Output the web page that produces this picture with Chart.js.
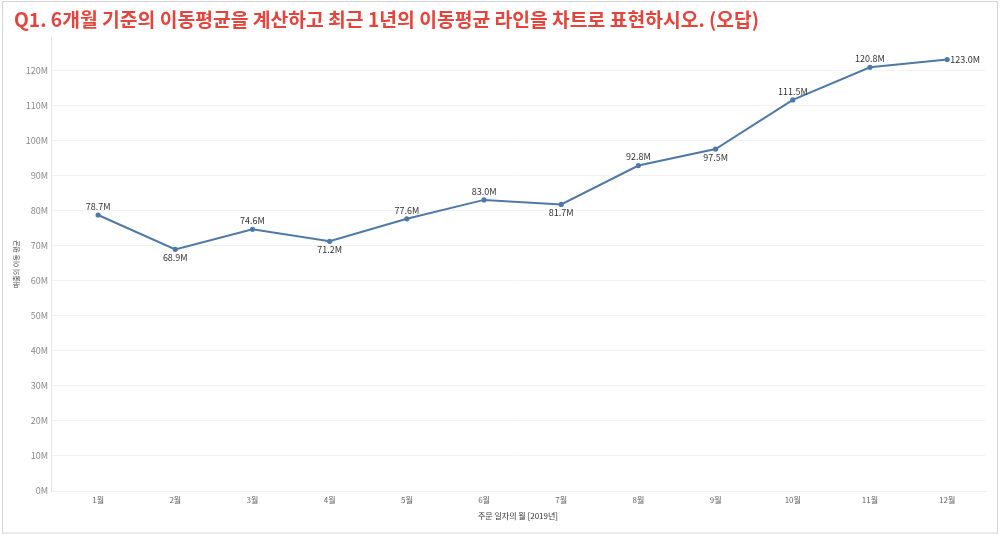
<!DOCTYPE html>
<html>
<head>
<meta charset="utf-8">
<script src="https://cdn.jsdelivr.net/npm/chart.js@4/dist/chart.umd.min.js"></script>
<style>
    body { margin: 0; background: #fff; }
    #wrap { width: 1000px; height: 535px; }
</style>
</head>
<body>
<div id="wrap"><canvas id="myChart" width="1000" height="535"></canvas></div>
<script>
const months = ["1월", "2월", "3월", "4월", "5월", "6월", "7월", "8월", "9월", "10월", "11월", "12월"];
const movingAvg = [78.7, 68.9, 74.6, 71.2, 77.6, 83.0, 81.7, 92.8, 97.5, 111.5, 120.8, 123.0];
const yTicks = [0, 10, 20, 30, 40, 50, 60, 70, 80, 90, 100, 110, 120];
// where each value label sits relative to its point
const labelSide = ["above", "below", "above", "below", "above", "above", "below", "above", "below", "above", "above", "right"];

const FONT = '"Noto Sans CJK KR", "Noto Sans", sans-serif';
const LINE_COLOR = '#4e79a7';

const frame = {
    id: 'frame',
    beforeDraw(chart) {
        const ctx = chart.ctx;
        ctx.save();
        ctx.fillStyle = '#fff';
        ctx.fillRect(0, 0, chart.width, chart.height);
        ctx.strokeStyle = '#d6d6d6';
        ctx.lineWidth = 1;
        ctx.strokeRect(2.5, 1.5, chart.width - 5, chart.height - 3.5);
        ctx.restore();
    }
};

const valueLabels = {
    id: 'valueLabels',
    afterDatasetsDraw(chart) {
        const ctx = chart.ctx;
        const meta = chart.getDatasetMeta(0);
        ctx.save();
        ctx.font = '9px ' + FONT;
        ctx.fillStyle = '#333';
        meta.data.forEach((pt, i) => {
            const text = movingAvg[i].toFixed(1) + 'M';
            const side = labelSide[i];
            if (side === 'right') {
                ctx.textAlign = 'left';
                ctx.textBaseline = 'middle';
                ctx.fillText(text, pt.x + 3, pt.y);
            } else if (side === 'above') {
                ctx.textAlign = 'center';
                ctx.textBaseline = 'bottom';
                ctx.fillText(text, pt.x, pt.y - 4);
            } else {
                ctx.textAlign = 'center';
                ctx.textBaseline = 'top';
                ctx.fillText(text, pt.x, pt.y + 4);
            }
        });
        ctx.restore();
    }
};

const ctx = document.getElementById('myChart').getContext('2d');
const myChart = new Chart(ctx, {
    type: 'line',
    data: {
        datasets: [{
            data: movingAvg.map((v, i) => ({ x: i + 1, y: v })),
            borderColor: LINE_COLOR,
            backgroundColor: LINE_COLOR,
            borderWidth: 2,
            pointRadius: 1.6,
            pointHoverRadius: 1.6,
            tension: 0
        }]
    },
    options: {
        responsive: false,
        animation: false,
        layout: { padding: { left: 14, right: 15, top: 0, bottom: 0 } },
        plugins: {
            legend: { display: false },
            tooltip: { enabled: false },
            title: {
                display: true,
                text: 'Q1. 6개월 기준의 이동평균을 계산하고 최근 1년의 이동평균 라인을 차트로 표현하시오. (오답)',
                align: 'start',
                color: '#e4443b',
                font: { family: FONT, size: 19.3, weight: 'bold' },
                padding: { top: 8, bottom: 6 }
            }
        },
        scales: {
            x: {
                type: 'linear',
                min: 0.39,
                max: 12.49,
                afterBuildTicks: (scale) => {
                    scale.ticks = months.map((m, i) => ({ value: i + 1 }));
                },
                afterFit: (scale) => { scale.height = 44; },
                grid: { display: false, drawTicks: false },
                border: { display: true, color: '#eeeeee' },
                ticks: {
                    padding: 4,
                    color: '#666',
                    font: { family: FONT, size: 8 },
                    callback: (v) => months[v - 1]
                },
                title: {
                    display: true,
                    text: '주문 일자의 월 [2019년]',
                    color: '#333',
                    font: { family: FONT, size: 8 },
                    padding: { top: 0, bottom: 14 }
                }
            },
            y: {
                min: 0,
                max: 129.4,
                afterBuildTicks: (scale) => {
                    scale.ticks = yTicks.map(v => ({ value: v }));
                },
                afterFit: (scale) => { scale.width = 37; },
                grid: { color: '#f2f2f2', drawTicks: false },
                border: { display: true, color: '#e6e6e6' },
                ticks: {
                    padding: 3,
                    color: '#888',
                    font: { family: FONT, size: 9 },
                    callback: (v) => v + 'M'
                },
                title: {
                    display: true,
                    text: '매출의 이동 평균',
                    color: '#444',
                    font: { family: FONT, size: 7 },
                    padding: { top: -2, bottom: 0 }
                }
            }
        }
    },
    plugins: [frame, valueLabels]
});
</script>
</body>
</html>
